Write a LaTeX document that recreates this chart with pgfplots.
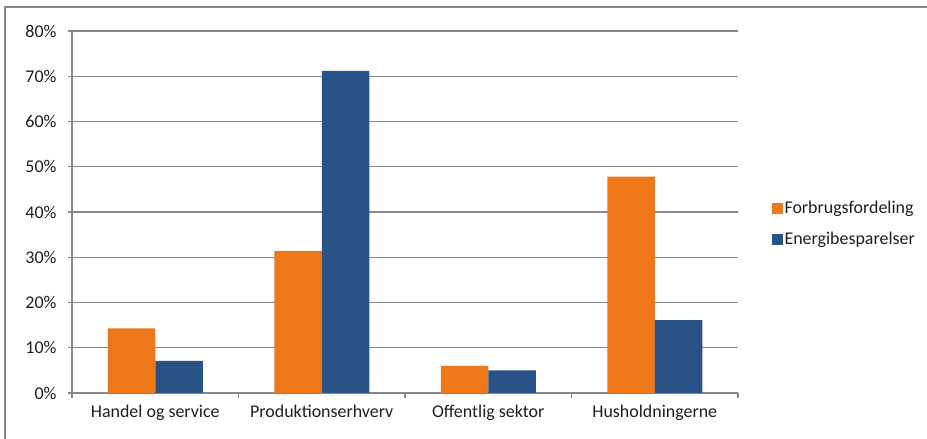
\documentclass[border=0pt]{standalone}
\usepackage{fontspec}
\setmainfont{Carlito}
\usepackage{pgfplots}
\pgfplotsset{compat=1.18}
\definecolor{orng}{RGB}{237,119,25}
\definecolor{blu}{RGB}{41,83,135}
\definecolor{gridg}{RGB}{136,136,136}
\definecolor{txt}{RGB}{30,30,30}
\begin{document}
\begin{tikzpicture}[x=1bp,y=1bp]
\path[use as bounding box] (0,0) rectangle (927,439);
\draw[gridg, line width=1.2bp] (5,0) -- (5,432) -- (927,432);
\begin{axis}[
  at={(72bp,46bp)}, anchor=south west,
  scale only axis, width=666bp, height=362bp,
  ybar=0pt, bar width=47.5bp,
  xmin=-0.5, xmax=3.5, ymin=0, ymax=80,
  xtick={0,1,2,3},
  xticklabels={Handel og service, Produktionserhverv, Offentlig sektor, Husholdningerne},
  minor xtick={-0.5,0.5,1.5,2.5,3.5},
  major x tick style={draw=none},
  minor tick length=5bp,
  ytick={0,10,...,80},
  yticklabel={\pgfmathprintnumber[assume math mode=true]{\tick}\%},
  major tick length=4bp,
  tick align=outside,
  tick style={gridg, line width=1.2bp},
  ymajorgrids,
  grid style={gridg, line width=1.2bp},
  axis x line*=bottom, axis y line*=left,
  axis line style={gridg, line width=1.2bp},
  x axis line style={-}, y axis line style={-},
  ticklabel style={font=\fontsize{18}{21}\selectfont, text=txt},
  xticklabel style={yshift=-5bp},
  yticklabel style={xshift=-8bp},
  legend style={at={(1.05,0.468)}, anchor=west, draw=none, fill=none,
    font=\fontsize{18}{21}\selectfont, text=txt, row sep=13bp,
    legend cell align=left, inner sep=0pt},
  legend image code/.code={\fill[#1] (0bp,-5.5bp) rectangle (11bp,5.5bp);},
  enlarge x limits=false,
]
\addplot[fill=orng, draw=none] coordinates {(0,14.3) (1,31.4) (2,6.0) (3,47.8)};
\addplot[fill=blu, draw=none] coordinates {(0,7.1) (1,71.2) (2,5.0) (3,16.1)};
\legend{Forbrugsfordeling, Energibesparelser}
\end{axis}
\end{tikzpicture}
\end{document}
